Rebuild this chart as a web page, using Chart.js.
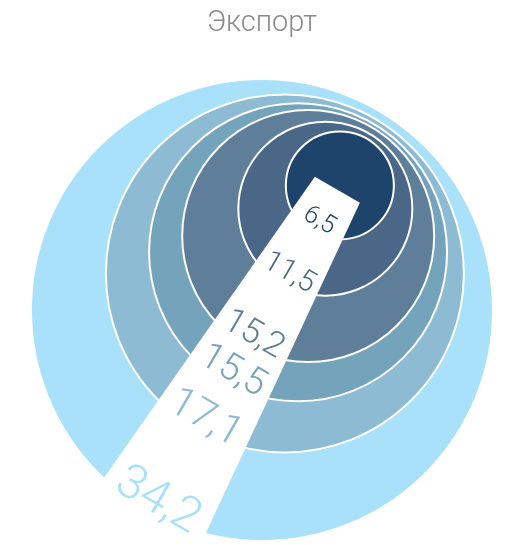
<!DOCTYPE html>
<html>
<head>
<meta charset="utf-8">
<script src="https://cdn.jsdelivr.net/npm/chart.js@4.4.1/dist/chart.umd.min.js"></script>
<style>
    html, body { margin: 0; padding: 0; background: #fff; }
    #wrap { width: 506px; height: 545px; }
</style>
</head>
<body>
<div id="wrap"><canvas id="myChart"></canvas></div>
<script>
'use strict'

// データ（小さい順：先頭のデータセットが一番上に描かれる）
var chartTitle = 'Экспорт';
var values = [6.5, 11.5, 15.2, 15.5, 17.1, 34.2];
var valueLabels = ['6,5', '11,5', '15,2', '15,5', '17,1', '34,2'];

// 見た目
var ringColors = ['#1f446b', '#4a6787', '#5e7e99', '#74a4bc', '#8dbbd3', '#a8e1f9'];
var ringSize = [54, 87, 126, 149, 179, 231];
var fontFamily = "Roboto, 'Liberation Sans', sans-serif";
var titleFont = { family: fontFamily, size: 29, weight: '300', lineHeight: 1.2 };
var titlePadding = { top: 6, bottom: 9 };
var padLeft = 18;   // タイトルを円の中心の上に置くため

var W = 506, H = 545;
var titleBox = titlePadding.top + titleFont.size * titleFont.lineHeight + titlePadding.bottom;

// 外側の円を基準に、小さい円を右上へずらす
var outerCenter = { x: 262, y: 310 - titleBox };
var shiftAngle = 58 * Math.PI / 180;
var shiftRatio = 0.83;

// 白い帯
var beamAngle = 120;       // 度（画面座標、下向き＋）
var beamHalfWidth = 26;
var beamSpread = 5;        // 度
var labelInset = 14;

function createDataSets() {
    var outerR = ringSize[ringSize.length - 1];
    var sets = [];
    for (var i = 0; i < values.length; i++) {
        var d = (outerR - ringSize[i]) * shiftRatio;
        sets.push({
            label: valueLabels[i],
            data: [{
                x: outerCenter.x + d * Math.cos(shiftAngle),
                y: outerCenter.y - d * Math.sin(shiftAngle),
                r: ringSize[i],
                v: values[i]
            }],
            backgroundColor: ringColors[i],
            borderColor: '#ffffff',
            borderWidth: 2,
            clip: false
        });
    }
    return sets;
}

var beamPlugin = {
    id: 'beam',
    afterDatasetsDraw: function (chart) {
        var ctx = chart.ctx;
        var inner = chart.getDatasetMeta(0).data[0];
        var a = beamAngle * Math.PI / 180;
        var dx = Math.cos(a), dy = Math.sin(a);
        var nx = -dy, ny = dx;
        var sx = inner.x + 5 * dx, sy = inner.y + 5 * dy;
        var len = 700;
        var w1 = beamHalfWidth + len * Math.tan(beamSpread * Math.PI / 180);

        ctx.save();
        ctx.fillStyle = '#ffffff';
        ctx.beginPath();
        ctx.moveTo(sx + nx * beamHalfWidth, sy + ny * beamHalfWidth);
        ctx.lineTo(sx - nx * beamHalfWidth, sy - ny * beamHalfWidth);
        ctx.lineTo(sx + dx * len - nx * w1, sy + dy * len - ny * w1);
        ctx.lineTo(sx + dx * len + nx * w1, sy + dy * len + ny * w1);
        ctx.closePath();
        ctx.fill();

        // ラベル：帯の軸が各円の縁と交わる少し内側
        for (var i = 0; i < chart.data.datasets.length; i++) {
            var el = chart.getDatasetMeta(i).data[0];
            var r = el.options.radius + 1;
            var px = sx - el.x, py = sy - el.y;
            var b = px * dx + py * dy;
            var c = px * px + py * py - r * r;
            var t = -b + Math.sqrt(b * b - c);
            var fs = 18 + r * 0.13;
            var lx = sx + dx * (t - labelInset);
            var ly = sy + dy * (t - labelInset);
            ctx.save();
            ctx.translate(lx, ly);
            ctx.rotate(a - Math.PI / 2);
            ctx.font = '300 ' + fs.toFixed(1) + 'px ' + fontFamily;
            ctx.fillStyle = chart.data.datasets[i].backgroundColor;
            ctx.textAlign = 'center';
            ctx.textBaseline = 'middle';
            ctx.fillText(chart.data.datasets[i].label, 0, 0);
            ctx.restore();
        }
        ctx.restore();
    }
};

window.onload = function () {
    var ctx = document.getElementById('myChart');
    new Chart(ctx, {
        type: 'bubble',
        data: { datasets: createDataSets() },
        options: {
            responsive: true,
            maintainAspectRatio: false,
            animation: false,
            events: [],
            layout: { padding: { left: padLeft }, autoPadding: false },
            scales: {
                x: { display: false, min: padLeft, max: W },
                y: { display: false, min: 0, max: H - titleBox, reverse: true }
            },
            plugins: {
                legend: { display: false },
                tooltip: { enabled: false },
                title: {
                    display: true,
                    text: chartTitle,
                    color: '#8a8a8a',
                    font: titleFont,
                    padding: titlePadding
                }
            }
        },
        plugins: [beamPlugin]
    });
};
</script>
</body>
</html>
